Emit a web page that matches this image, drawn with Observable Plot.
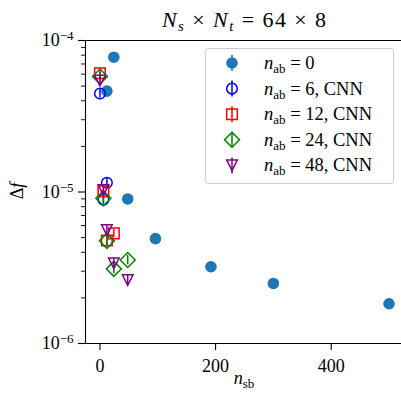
<!DOCTYPE html>
<html><head><meta charset="utf-8">
<script src="https://cdn.jsdelivr.net/npm/d3@7"></script>
<script src="https://cdn.jsdelivr.net/npm/@observablehq/plot@0.6"></script>
<style>body{margin:0;background:#fff;} #chart{width:401px;height:393px;}</style>
</head><body><div id="chart"></div>
<script>
// ---- data ----
const nsb_0  = [12, 24, 48, 96, 192, 300, 500];
const df_0   = [4.63e-5, 7.76e-5, 9.0e-6, 4.92e-6, 3.21e-6, 2.49e-6, 1.83e-6];
const err_0  = [1.5e-6, 2.5e-6, 3e-7, 1.6e-7, 1.1e-7, 0.9e-7, 0.7e-7];
const nsb_6  = [0, 6, 12];
const df_6   = [4.47e-5, 8.9e-6, 1.15e-5];
const err_6  = [3.0e-6, 6e-7, 8e-7];
const nsb_12 = [0, 6, 12, 24];
const df_12  = [6.08e-5, 1.01e-5, 4.78e-6, 5.33e-6];
const err_12 = [4e-6, 7e-7, 3.5e-7, 3.5e-7];
const nsb_24 = [0, 6, 12, 24, 48];
const df_24  = [5.78e-5, 9.1e-6, 4.76e-6, 3.11e-6, 3.56e-6];
const err_24 = [4e-6, 6e-7, 3.5e-7, 2.3e-7, 2.6e-7];
const nsb_48 = [0, 6, 12, 24, 48];
const df_48  = [5.44e-5, 1.03e-5, 5.6e-6, 3.38e-6, 2.62e-6];
const err_48 = [4e-6, 7e-7, 4e-7, 2.5e-7, 1.9e-7];

const legendNums = ["0", "6", "12", "24", "48"];
const legendSuffix = ["", ", CNN", ", CNN", ", CNN", ", CNN"];
const xTicks = [0, 200, 400];
const yMajor = [1e-6, 1e-5, 1e-4];
const yMinor = [2e-6,3e-6,4e-6,5e-6,6e-6,7e-6,8e-6,9e-6,2e-5,3e-5,4e-5,5e-5,6e-5,7e-5,8e-5,9e-5];
const xDomain = [-25, 521.6];
const yDomain = [1e-6, 1e-4];

// ---- symbols (matplotlib-like) ----
const symCircle  = {draw(c, s){const r=Math.sqrt(s/Math.PI); c.moveTo(r,0); c.arc(0,0,r,0,2*Math.PI); c.closePath();}};
const symSquare  = {draw(c, s){const r=Math.sqrt(s/Math.PI); c.moveTo(-r,-r); c.lineTo(r,-r); c.lineTo(r,r); c.lineTo(-r,r); c.closePath();}};
const symDiamond = {draw(c, s){const r=Math.sqrt(s/Math.PI)*Math.SQRT2; c.moveTo(0,-r); c.lineTo(r,0); c.lineTo(0,r); c.lineTo(-r,0); c.closePath();}};
const symTriDown = {draw(c, s){const r=Math.sqrt(s/Math.PI); c.moveTo(0,r); c.lineTo(-r,-r); c.lineTo(r,-r); c.closePath();}};

const series = [
  {nsb: nsb_0,  df: df_0,  err: err_0,  color: "#1f77b4", sym: symCircle,  filled: true},
  {nsb: nsb_6,  df: df_6,  err: err_6,  color: "#0000ff", sym: symCircle,  filled: false},
  {nsb: nsb_12, df: df_12, err: err_12, color: "#ff0000", sym: symSquare,  filled: false},
  {nsb: nsb_24, df: df_24, err: err_24, color: "#008000", sym: symDiamond, filled: false},
  {nsb: nsb_48, df: df_48, err: err_48, color: "#800080", sym: symTriDown, filled: false}
];
const rowsOf = s => s.nsb.map((x, i) => ({x, y: s.df[i], lo: s.df[i] - s.err[i], hi: s.df[i] + s.err[i]}));

const R = 5.3;
const marks = [];
for (const s of series) {
  const rows = rowsOf(s);
  marks.push(Plot.ruleX(rows, {x: "x", y1: "lo", y2: "hi", stroke: s.color, strokeWidth: 1.5}));
  marks.push(Plot.dot(rows, {x: "x", y: "y", r: s.filled ? 5.8 : R, symbol: s.sym,
    fill: s.filled ? s.color : "none", stroke: s.filled ? "none" : s.color, strokeWidth: 1.5}));
}

const plot = Plot.plot({
  width: 401, height: 393,
  marginTop: 40, marginBottom: 50, marginLeft: 85, marginRight: 0,
  style: {fontFamily: "'Liberation Serif', serif", fontSize: "18px", background: "#fff", color: "#000"},
  x: {domain: xDomain},
  y: {type: "log", domain: yDomain},
  marks: [
    Plot.axisX({ticks: xTicks, tickSize: 7, tickPadding: 9, tickFormat: d => String(d), label: null, strokeWidth: 1.1}),
    Plot.axisY({ticks: yMajor, tickSize: 7, tickPadding: 5, tickFormat: d => "10^" + Math.round(Math.log10(d)), label: null, strokeWidth: 1.1}),
    Plot.axisY({ticks: yMinor, tickSize: 4, tickFormat: () => "", label: null, strokeWidth: 0.9}),
    ...marks,
    Plot.ruleX([xDomain[0]], {stroke: "#000", strokeWidth: 1.1}),
    Plot.ruleY(yDomain, {stroke: "#000", strokeWidth: 1.1})
  ]
});

const svg = d3.select(plot);
// superscript exponents on y tick labels
svg.selectAll('g[aria-label="y-axis tick label"] text').each(function () {
  const t = this.textContent;
  if (!t.includes("^")) return;
  const [b, e] = t.split("^");
  const sel = d3.select(this);
  sel.text("");
  sel.append("tspan").text(b);
  sel.append("tspan").attr("dy", "-0.45em").attr("font-size", "13px").text(e.replace("-", "\u2212"));
});

// title
const title = svg.append("text").attr("x", 162).attr("y", 27).attr("text-anchor", "start")
  .attr("font-size", "22px").attr("textLength", 164).attr("lengthAdjust", "spacing");
title.append("tspan").attr("font-style", "italic").text("N");
title.append("tspan").attr("font-style", "italic").attr("font-size", "15px").attr("dy", 4).text("s");
title.append("tspan").attr("dy", -4).text(" \u00d7 ");
title.append("tspan").attr("font-style", "italic").text("N");
title.append("tspan").attr("font-style", "italic").attr("font-size", "15px").attr("dy", 4).text("t");
title.append("tspan").attr("dy", -4).text(" = 64 \u00d7 8");

// x label
const xl = svg.append("text").attr("x", 244).attr("y", 384).attr("text-anchor", "middle");
xl.append("tspan").attr("font-style", "italic").text("n");
xl.append("tspan").attr("font-size", "13px").attr("dy", 4).text("sb");

// y label
const yl = svg.append("text").attr("transform", "translate(23,191) rotate(-90)").attr("text-anchor", "middle");
yl.append("tspan").text("\u0394");
yl.append("tspan").attr("font-style", "italic").text("f");

// legend
const lg = svg.append("g").attr("text-anchor", "start").attr("font-size", "18.5px");
lg.append("rect").attr("x", 205.5).attr("y", 48.5).attr("width", 188).attr("height", 135).attr("rx", 3)
  .attr("fill", "#fff").attr("fill-opacity", 0.8).attr("stroke", "#cccccc").attr("stroke-width", 1);
series.forEach((s, i) => {
  const cy = 63 + 25.6 * i, cx = 232;
  lg.append("line").attr("x1", cx).attr("x2", cx).attr("y1", cy - 8).attr("y2", cy + 8)
    .attr("stroke", s.color).attr("stroke-width", 1.5);
  const r = s.filled ? 5.8 : R;
  lg.append("path").attr("d", d3.symbol(s.sym, Math.PI * r * r)()).attr("transform", `translate(${cx},${cy})`)
    .attr("fill", s.filled ? s.color : "none").attr("stroke", s.filled ? "none" : s.color).attr("stroke-width", 1.5);
  const t = lg.append("text").attr("x", 264).attr("y", cy + 6).attr("text-anchor", "start");
  t.append("tspan").attr("font-style", "italic").text("n");
  t.append("tspan").attr("font-size", "13px").attr("dy", 4).text("ab");
  t.append("tspan").attr("dy", -4).text(" = " + legendNums[i] + legendSuffix[i]);
});

document.getElementById("chart").appendChild(plot);
</script>
</body></html>
